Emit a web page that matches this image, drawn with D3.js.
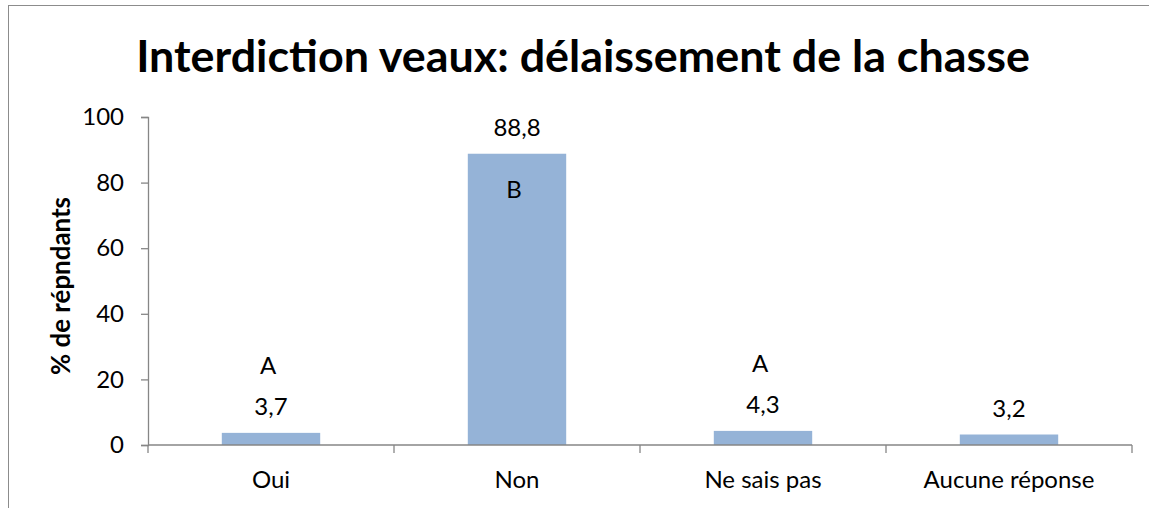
<!DOCTYPE html>
<html>
<head>
<meta charset="utf-8">
<script src="https://cdn.jsdelivr.net/npm/d3@7"></script>
<style>
  html, body { margin: 0; padding: 0; background: #fff; }
  svg { display: block; font-family: Lato, "Open Sans", sans-serif; }
</style>
</head>
<body>
<svg id="chart" width="1149" height="508"></svg>
<script>
// Survey answers and percentage of respondents
const categories = ["Oui", "Non", "Ne sais pas", "Aucune réponse"];
const values = [3.7, 88.8, 4.3, 3.2];
const valueLabels = ["3,7", "88,8", "4,3", "3,2"];
// Statistical grouping letters (empty = none)
const groupLetters = ["A", "B", "A", ""];
const yTicks = [0, 20, 40, 60, 80, 100];

const W = 1149, H = 508;
const margin = { left: 148, right: 17, top: 117, bottom: 63 };
const fs = 24;
const svg = d3.select("#chart");

// Fit a text element's font size so it spans a given length
function fitText(sel, base, len) {
  sel.attr("font-size", base);
  const w = sel.node().getComputedTextLength();
  sel.attr("font-size", base * len / w);
}

// Outer chart frame
svg.append("rect")
  .attr("x", 8.5).attr("y", 5.5)
  .attr("width", W + 20).attr("height", H + 20)
  .attr("fill", "none").attr("stroke", "#8c8c8c").attr("stroke-width", 1);

const x = d3.scaleBand()
  .domain(categories)
  .range([margin.left, W - margin.right])
  .paddingInner(0.6).paddingOuter(0.3);

const y = d3.scaleLinear()
  .domain([0, 100])
  .range([H - margin.bottom, margin.top]);

const axisColor = "#868686";

// Bars
svg.append("g").selectAll("rect")
  .data(values)
  .join("rect")
  .attr("x", (d, i) => x(categories[i]))
  .attr("y", d => y(d))
  .attr("width", x.bandwidth())
  .attr("height", d => y(0) - y(d))
  .attr("fill", "#95b3d7");

// Y axis
const yAxis = svg.append("g")
  .attr("transform", `translate(${margin.left},0)`)
  .call(d3.axisLeft(y).tickValues(yTicks).tickSize(7).tickPadding(17));
yAxis.select(".domain").attr("stroke", axisColor).attr("stroke-width", 1.3);
yAxis.selectAll(".tick line").attr("stroke", axisColor).attr("stroke-width", 1.3);
yAxis.selectAll(".tick text")
  .attr("fill", "#000").attr("font-size", fs)
  .attr("font-family", "Lato, sans-serif");

// X axis with ticks between categories
const x0 = y(0);
const step = x.step();
const bounds = d3.range(categories.length + 1).map(i => margin.left + i * step);
const xAxis = svg.append("g");
xAxis.append("line")
  .attr("x1", margin.left).attr("x2", W - margin.right)
  .attr("y1", x0).attr("y2", x0)
  .attr("stroke", axisColor).attr("stroke-width", 1.3);
xAxis.selectAll("line.tk")
  .data(bounds)
  .join("line").attr("class", "tk")
  .attr("x1", d => d).attr("x2", d => d)
  .attr("y1", x0).attr("y2", x0 + 8)
  .attr("stroke", axisColor).attr("stroke-width", 1.3);
xAxis.selectAll("text")
  .data(categories)
  .join("text")
  .attr("x", d => x(d) + x.bandwidth() / 2)
  .attr("y", x0 + 35)
  .attr("dy", "0.35em")
  .attr("text-anchor", "middle")
  .attr("font-size", fs)
  .text(d => d);

// Value labels above bars
svg.append("g").selectAll("text")
  .data(values)
  .join("text")
  .attr("x", (d, i) => x(categories[i]) + x.bandwidth() / 2)
  .attr("y", d => y(d) - 26)
  .attr("dy", "0.35em")
  .attr("text-anchor", "middle")
  .attr("font-size", fs)
  .text((d, i) => valueLabels[i]);

// Group letters: inside tall bars, above the value label otherwise
svg.append("g").selectAll("text")
  .data(values)
  .join("text")
  .attr("x", (d, i) => x(categories[i]) + x.bandwidth() / 2 - 3)
  .attr("y", d => d > 50 ? y(d) + 36 : y(d) - 67)
  .attr("dy", "0.35em")
  .attr("text-anchor", "middle")
  .attr("font-size", fs)
  .text((d, i) => groupLetters[i]);

// Y axis title
const yTitle = svg.append("text")
  .attr("transform", "translate(61,286) rotate(-90)")
  .attr("text-anchor", "middle")
  .attr("dy", "0.35em")
  .attr("font-weight", "bold")
  .text("% de répndants");
fitText(yTitle, 20, 178);

// Chart title, sized to span its reserved width
const title = svg.append("text")
  .attr("x", 583).attr("y", 72)
  .attr("text-anchor", "middle")
  .attr("font-weight", "bold")
  .text("Interdiction veaux: délaissement de la chasse");
fitText(title, 40, 894);
</script>
</body>
</html>
